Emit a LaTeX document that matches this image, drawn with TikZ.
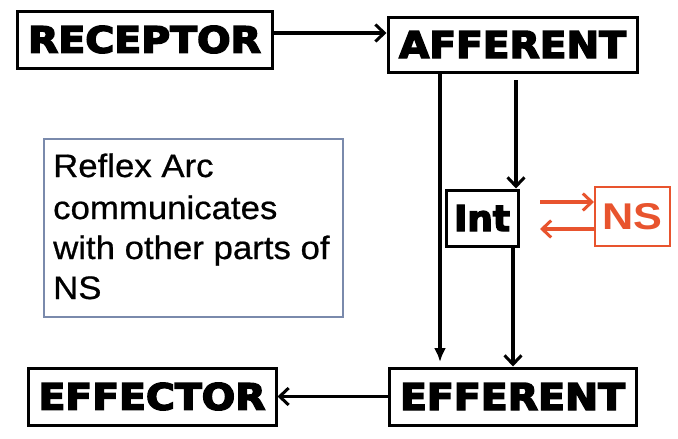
\documentclass[tikz,border=0pt]{standalone}
\usepackage{fontspec}
\setmainfont{Liberation Sans}[FakeBold=0.6]
\newfontfamily\heavyfont{DejaVu Sans Bold}[FakeBold=4]
\newfontfamily\nsfont{Liberation Sans Bold}
\usetikzlibrary{arrows.meta}
\definecolor{nsorange}{RGB}{232,84,46}
\definecolor{boxgray}{RGB}{122,138,172}
\tikzset{
  blackbox/.style={draw=black, line width=3pt, inner sep=0pt, minimum width=#1},
  barb/.style={-{Straight Barb[length=9pt,width=17pt,line width=3pt]}, line width=3.2pt},
  solidtip/.style={-{Latex[length=14pt,width=12pt]}, line width=3.2pt},
  obarb/.style={-{Straight Barb[length=9pt,width=17pt,line width=3pt]}, line width=3.2pt, draw=nsorange},
}
\newcommand{\lab}[3]{\heavyfont\resizebox{#1pt}{#2pt}{#3}}
\begin{document}
\begin{tikzpicture}[x=1pt,y=-1pt]
\useasboundingbox (0,0) rectangle (678,439);
% boxes
\node[blackbox=255pt, minimum height=57pt] (rec) at (144.5,39.5) {\lab{233}{27}{RECEPTOR}};
\node[blackbox=249pt, minimum height=55pt] (aff) at (512.5,44.5) {\lab{227}{27}{AFFERENT}};
\node[blackbox=72pt, minimum height=56pt] (int) at (482,218) {\lab{56}{26}{Int}};
\node[draw=nsorange, line width=2pt, inner sep=0pt, minimum width=75pt, minimum height=59pt] (ns) at (632.5,216.5) {\color{nsorange}\nsfont\resizebox{60pt}{26pt}{NS}};
\node[blackbox=248pt, minimum height=57pt] (efc) at (152,396.5) {\lab{227}{27}{EFFECTOR}};
\node[blackbox=247pt, minimum height=57pt] (efr) at (512.5,396.5) {\lab{225}{27}{EFFERENT}};
% text box
\node[draw=boxgray, line width=1.2pt, minimum width=299pt, minimum height=178pt, inner sep=0pt] (tbox) at (193.5,228) {};
\begin{scope}[every node/.style={anchor=base west, inner sep=0pt, font=\fontsize{32.5}{41}\selectfont}]
\node (t1) at (53,177) {\scalebox{1.07}[1]{Reflex Arc}};
\node (t2) at (53,219) {\scalebox{1.07}[1]{communicates}};
\node (t3) at (53,259) {\scalebox{1.07}[1]{with other parts of}};
\node (t4) at (53,299) {\scalebox{1.07}[1]{NS}};
\end{scope}
% connectors
\coordinate (ya) at (0,33);
\draw[barb] (rec.east |- ya) -- (aff.west |- ya);
\coordinate (l1) at (440,362);
\draw[solidtip] (aff.south -| l1) -- (l1);
\coordinate (r1) at (516,80);
\draw[barb] (r1) -- (int.north -| r1);
\coordinate (r2) at (513,0);
\draw[barb] (int.south -| r2) -- (efr.north -| r2);
\draw[barb] (efr.west) -- (efc.east);
\coordinate (n1) at (540,202);
\coordinate (n2) at (540,229);
\draw[obarb] (n1) -- (ns.west |- n1);
\draw[obarb] (ns.west |- n2) -- (n2);
\end{tikzpicture}
\end{document}
